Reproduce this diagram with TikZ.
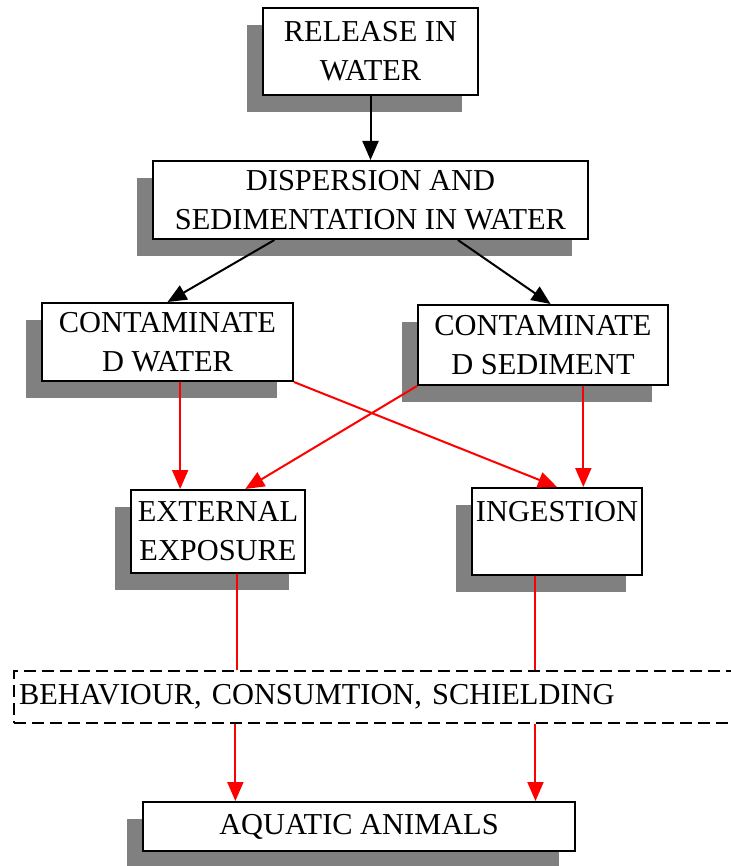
\documentclass[tikz,border=0pt]{standalone}
\usepackage{fontspec}
\setmainfont{Liberation Serif}
\definecolor{shadowgray}{RGB}{128,128,128}
\definecolor{pathred}{RGB}{255,0,0}
\usetikzlibrary{shapes,arrows.meta,positioning,calc,shadows}

\tikzset{
  stagebox/.style={draw, line width=1pt, fill=white, align=center, inner xsep=2pt,
    font=\fontsize{15.2}{19.5}\selectfont,
    drop shadow={shadow xshift=-8pt, shadow yshift=-8.5pt, fill=shadowgray, opacity=1}},
  factorbox/.style={draw, dashed, line width=1pt, dash pattern=on 6pt off 3pt,
    font=\fontsize{15.2}{19.5}\selectfont, align=left},
  blackarrow/.style={line width=1pt, -{Triangle[width=8pt,length=9.5pt]}},
  redline/.style={pathred, line width=1pt},
  redarrow/.style={redline, -{Triangle[width=8pt,length=9.5pt]}}
}

\begin{document}
\begin{tikzpicture}[x=0.5pt, y=-0.5pt]
    \useasboundingbox (0,0) rectangle (731,866);

    % Stages of the pathway
    \node[stagebox, minimum width=107.5pt, minimum height=43.5pt] (release) at (370.5,51.5) {RELEASE IN\\WATER};
    \node[stagebox, minimum width=217.5pt, minimum height=39pt] (disp) at (370.5,200) {DISPERSION AND\\SEDIMENTATION IN WATER};
    \node[stagebox, minimum width=125.5pt, minimum height=39pt] (cwater) at (167.5,342) {CONTAMINATE\\D WATER};
    \node[stagebox, minimum width=125pt, minimum height=40pt] (csed) at (543,345) {CONTAMINATE\\D SEDIMENT};
    \node[stagebox, minimum width=87pt, minimum height=41.5pt] (extexp) at (218,531.5) {EXTERNAL\\EXPOSURE};
    \node[stagebox, minimum width=84pt, inner ysep=0pt, text height=16.5pt, text depth=27pt] (ingest) at (557,531.5) {INGESTION};
    \node[factorbox, anchor=west, text width=361pt, inner xsep=2.5pt, minimum height=26pt] (factors) at (13,697) {BEHAVIOUR, CONSUMTION, SCHIELDING};
    \node[stagebox, minimum width=216pt, minimum height=24.5pt] (animals) at (359,826.5) {AQUATIC ANIMALS};

    % Black arrows
    \draw[blackarrow] (release) -- (disp);
    \draw[blackarrow] ($(disp.south west)!0.28!(disp.south east)$) -- (cwater.north);
    \draw[blackarrow] ($(disp.south west)!0.70!(disp.south east)$) -- ($(csed.north west)!0.53!(csed.north east)$);

    % Red arrows
    \coordinate (w1) at ($(cwater.south west)!0.55!(cwater.south east)$);
    \coordinate (s1) at ($(csed.south west)!0.66!(csed.south east)$);
    \draw[redarrow] (w1) -- (w1 |- extexp.north);
    \draw[redarrow] (cwater.south east) -- (ingest.north);
    \draw[redarrow] (csed.south west) -- ($(extexp.north west)!0.655!(extexp.north east)$);
    \draw[redarrow] (s1) -- (s1 |- ingest.north);

    \coordinate (e1) at ($(extexp.south west)!0.61!(extexp.south east)$);
    \coordinate (i1) at ($(ingest.south west)!0.375!(ingest.south east)$);
    \draw[redline] (e1) -- (e1 |- factors.north);
    \draw[redline] (i1) -- (i1 |- factors.north);
    \draw[redarrow] ([xshift=-1pt]e1 |- factors.south) -- ([xshift=-1pt]e1 |- animals.north);
    \draw[redarrow] (i1 |- factors.south) -- (i1 |- animals.north);
\end{tikzpicture}
\end{document}
